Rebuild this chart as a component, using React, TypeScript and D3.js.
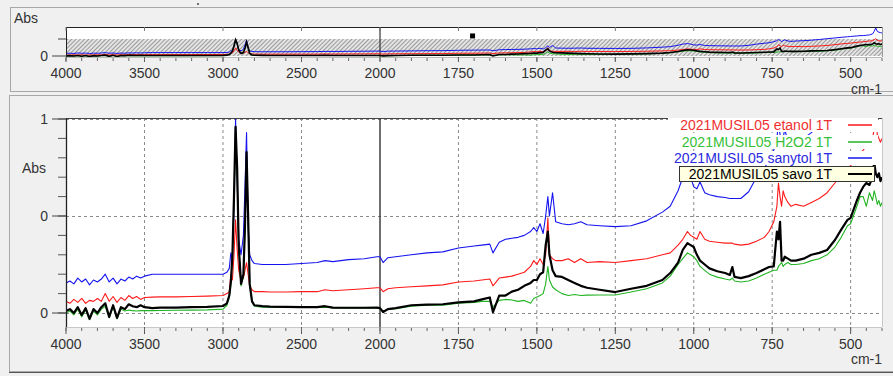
import * as d3 from "d3";

// wavenumber grid (cm-1) shared by all four spectra
const wavenumbers = [
  4000, 3975, 3950, 3925, 3900, 3875, 3850, 3825, 3800, 3775, 3750, 3725, 3700, 3675, 3650, 3625, 3600,
  3575, 3550, 3525, 3500, 3450, 3400, 3300, 3200, 3100, 3000, 2975, 2960, 2950, 2940, 2930, 2920, 2910,
  2900, 2885, 2870, 2860, 2850, 2840, 2830, 2815, 2800, 2750, 2700, 2600, 2500, 2400, 2350, 2300, 2200,
  2100, 2020, 2000, 1990, 1975, 1950, 1900, 1850, 1800, 1750, 1700, 1675, 1650, 1640, 1620, 1600, 1580,
  1560, 1540, 1520, 1510, 1500, 1490, 1480, 1472, 1465, 1460, 1450, 1440, 1420, 1400, 1380, 1360, 1340,
  1300, 1250, 1200, 1150, 1100, 1075, 1050, 1035, 1020, 1010, 1000, 990, 980, 965, 950, 925, 900, 885,
  877, 870, 850, 825, 800, 775, 760, 745, 735, 730, 725, 720, 715, 710, 700, 690, 675, 650, 625, 600,
  575, 550, 530, 510, 500, 480, 470, 460, 450, 440, 430, 425, 420, 415, 410, 405, 400,
];

const etanol = [
  0.06, 0.05, 0.07, 0.055, 0.075, 0.05, 0.065, 0.06, 0.075, 0.06, 0.1, 0.06, 0.085, 0.055, 0.08, 0.065, 0.09,
  0.075, 0.085, 0.07, 0.08, 0.082, 0.083, 0.083, 0.085, 0.087, 0.09, 0.1, 0.11, 0.2, 0.17, 0.3, 0.48, 0.33,
  0.22, 0.17, 0.18, 0.22, 0.26, 0.2, 0.14, 0.12, 0.11, 0.11, 0.108, 0.108, 0.11, 0.11, 0.12, 0.115, 0.12,
  0.125, 0.13, 0.13, 0.11, 0.125, 0.13, 0.135, 0.14, 0.145, 0.16, 0.165, 0.17, 0.175, 0.14, 0.18, 0.185, 0.19,
  0.2, 0.21, 0.24, 0.27, 0.25, 0.28, 0.25, 0.3, 0.49, 0.3, 0.28, 0.27, 0.27, 0.28, 0.26, 0.28, 0.26,
  0.265, 0.26, 0.27, 0.28, 0.3, 0.31, 0.35, 0.38, 0.42, 0.4, 0.39, 0.38, 0.42, 0.38, 0.37, 0.365, 0.36, 0.36,
  0.36, 0.355, 0.35, 0.355, 0.37, 0.39, 0.42, 0.47, 0.55, 0.67, 0.6, 0.55, 0.63, 0.6, 0.57, 0.55, 0.56, 0.55, 0.57, 0.59,
  0.62, 0.67, 0.71, 0.74, 0.76, 0.8, 0.82, 0.84, 0.86, 0.88, 0.9, 0.95, 1.02, 0.92, 0.9, 0.88, 0.9,
];

const h2o2 = [
  0.0, 0.01, -0.01, 0.02, -0.02, 0.015, -0.035, 0.01, -0.01, 0.02, 0.035, -0.025, 0.03, -0.03, 0.02, 0.01, 0.015,
  0.012, 0.01, 0.012, 0.012, 0.012, 0.013, 0.014, 0.015, 0.016, 0.02, 0.04, 0.08, 0.15, 0.28, 0.58, 0.94, 0.72,
  0.33, 0.14, 0.19, 0.43, 0.8, 0.48, 0.14, 0.055, 0.035, 0.03, 0.03, 0.03, 0.028, 0.028, 0.03, 0.026, 0.025,
  0.025, 0.025, 0.022, 0.005, 0.018, 0.022, 0.035, 0.04, 0.04, 0.05, 0.055, 0.06, 0.06, 0.03, 0.065, 0.07, 0.067,
  0.06, 0.065, 0.05, 0.075, 0.082, 0.09, 0.1, 0.15, 0.24, 0.17, 0.134, 0.12, 0.1, 0.09, 0.095, 0.09, 0.092,
  0.093, 0.093, 0.108, 0.125, 0.155, 0.19, 0.25, 0.28, 0.31, 0.3, 0.29, 0.27, 0.24, 0.22, 0.2, 0.185, 0.175, 0.17,
  0.18, 0.165, 0.16, 0.165, 0.18, 0.2, 0.21, 0.22, 0.22, 0.24, 0.25, 0.26, 0.24, 0.25, 0.26, 0.25, 0.25, 0.255, 0.27, 0.28,
  0.3, 0.34, 0.39, 0.45, 0.46, 0.55, 0.6, 0.6, 0.55, 0.62, 0.58, 0.63, 0.6, 0.56, 0.58, 0.55, 0.57,
];

const sanytol = [
  0.155, 0.165, 0.15, 0.18, 0.16, 0.175, 0.145, 0.17, 0.16, 0.175, 0.2, 0.16, 0.18, 0.15, 0.175, 0.165, 0.185,
  0.175, 0.19, 0.18, 0.19, 0.2, 0.2, 0.2, 0.2, 0.2, 0.2, 0.21, 0.23, 0.31, 0.28, 0.55, 1.0, 0.7,
  0.38, 0.3, 0.4, 0.65, 0.93, 0.45, 0.3, 0.27, 0.255, 0.25, 0.25, 0.25, 0.255, 0.26, 0.27, 0.265, 0.275,
  0.28, 0.29, 0.29, 0.26, 0.285, 0.29, 0.3, 0.31, 0.315, 0.335, 0.345, 0.35, 0.355, 0.31, 0.365, 0.38, 0.385,
  0.39, 0.4, 0.42, 0.44, 0.42, 0.46, 0.41, 0.5, 0.6, 0.5, 0.62, 0.47, 0.46, 0.455, 0.46, 0.47, 0.455,
  0.45, 0.445, 0.45, 0.475, 0.52, 0.55, 0.63, 0.7, 0.73, 0.7, 0.65, 0.64, 0.675, 0.62, 0.61, 0.6, 0.595, 0.59,
  0.59, 0.59, 0.59, 0.625, 0.7, 0.75, 0.78, 0.84, 0.9, 0.98, 0.92, 0.85, 0.9, 0.95, 0.88, 0.86, 0.88, 0.9, 0.93, 0.97,
  1.02, 1.06, 1.1, 1.13, 1.15, 1.18, 1.2, 1.2, 1.22, 1.24, 1.3, 1.45, 1.65, 1.45, 1.4, 1.38, 1.35,
];

const savo = [
  0.01, 0.02, 0.0, 0.03, -0.01, 0.025, -0.03, 0.02, 0.0, 0.03, 0.05, -0.02, 0.04, -0.025, 0.03, 0.02, 0.045,
  0.035, 0.03, 0.04, 0.03, 0.025, 0.028, 0.028, 0.03, 0.032, 0.036, 0.05, 0.09, 0.16, 0.3, 0.6, 0.96, 0.75,
  0.35, 0.15, 0.2, 0.45, 0.83, 0.5, 0.15, 0.06, 0.04, 0.035, 0.033, 0.032, 0.03, 0.03, 0.035, 0.028, 0.027,
  0.027, 0.028, 0.025, 0.005, 0.02, 0.025, 0.04, 0.043, 0.045, 0.055, 0.06, 0.07, 0.08, 0.005, 0.09, 0.09, 0.11,
  0.12, 0.14, 0.155, 0.17, 0.17, 0.2, 0.21, 0.35, 0.42, 0.3, 0.22, 0.19, 0.186, 0.17, 0.155, 0.14, 0.13,
  0.12, 0.108, 0.125, 0.14, 0.17, 0.206, 0.26, 0.325, 0.36, 0.35, 0.34, 0.3, 0.27, 0.25, 0.23, 0.215, 0.206, 0.196,
  0.237, 0.186, 0.18, 0.19, 0.206, 0.225, 0.237, 0.24, 0.42, 0.38, 0.47, 0.27, 0.27, 0.29, 0.28, 0.27, 0.27, 0.28, 0.3, 0.31,
  0.325, 0.376, 0.43, 0.48, 0.49, 0.58, 0.62, 0.65, 0.67, 0.66, 0.7, 0.78, 0.72, 0.7, 0.72, 0.68, 0.7,
];

const seriesNames = ["2021MUSIL05 etanol 1T", "2021MUSIL05 H2O2 1T", "2021MUSIL05 sanytol 1T", "2021MUSIL05 savo 1T"];
const seriesValues = [etanol, h2o2, sanytol, savo];
const seriesColors = ["#ff1a1a", "#22b422", "#1414f0", "#000000"];
const legendColors = ["#f03030", "#36c036", "#2a2ae0", "#000000"];
const drawOrder = [2, 0, 1, 3];

const majorTicks = [4000, 3500, 3000, 2500, 2000, 1750, 1500, 1250, 1000, 750, 500];
const minorTicks = [...d3.range(4000, 2000, -100), ...d3.range(2000, 399, -50)];
const mainYTicks = [0, 0.5, 1];
const mainYLabels = ["0", "0", "1"];
const peakMarker = [1705, 1.18];

const W = 893;
const H = 376;
const FONT = "'Liberation Sans', Arial, sans-serif";
const TXT = "#333";
const PLOT = { left: 66, brk: 380, right: 882 };
const MAIN = { top: 118, bottom: 327 };
const OVER = { top: 27, bottom: 57 };

export default function App() {
  const x = d3.scaleLinear().domain([4000, 2000, 400]).range([PLOT.left, PLOT.brk, PLOT.right]);
  const yMain = d3.scaleLinear().domain([0, 1]).range([313, 119]);
  const yOver = d3.scaleLinear().domain([0, 1]).range([56, 39]);

  const makeLine = (y: d3.ScaleLinear<number, number>) =>
    d3
      .line<number>()
      .x((_, i) => x(wavenumbers[i]))
      .y((d) => y(d));

  const mainLine = makeLine(yMain);
  const overLine = makeLine(yOver);

  const legendY = [125, 142, 158, 174];

  return (
    <div style={{ position: "absolute", left: 0, top: 0, width: W, height: H }}>
      <svg width={W} height={H} style={{ display: "block", fontFamily: FONT }}>
        <defs>
          <clipPath id="clipMain">
            <rect x={PLOT.left} y={MAIN.top} width={PLOT.right - PLOT.left} height={MAIN.bottom - MAIN.top} />
          </clipPath>
          <clipPath id="clipOver">
            <rect x={PLOT.left} y={OVER.top} width={PLOT.right - PLOT.left} height={OVER.bottom - OVER.top} />
          </clipPath>
          <pattern id="hatch" width={3} height={3} patternUnits="userSpaceOnUse" patternTransform="rotate(45)">
            <rect width={3} height={3} fill="#e4e4e4" />
            <line x1={0} y1={0} x2={0} y2={3} stroke="#6a6a6a" strokeWidth={1.2} />
          </pattern>
        </defs>

        <rect width={W} height={H} fill="#f0f0f0" />
        <circle cx={198} cy={4} r={1} fill="#444" />

        {/* panel frames */}
        <rect x={10.5} y={7.5} width={890} height={84} fill="none" stroke="#a8a8a8" />
        <rect x={9.5} y={95.5} width={890} height={276} fill="none" stroke="#a8a8a8" />
        <line x1={9} x2={W} y1={372.5} y2={372.5} stroke="#555" />

        {/* ===== overview panel ===== */}
        <text x={14} y={23} fontSize={14} fill={TXT}>Abs</text>
        <rect x={PLOT.left} y={OVER.top} width={PLOT.right - PLOT.left} height={OVER.bottom - OVER.top} fill="#fff" />
        <rect x={PLOT.left} y={yOver(1)} width={PLOT.right - PLOT.left} height={yOver(0) - yOver(1)} fill="url(#hatch)" />
        <line x1={x(2000)} x2={x(2000)} y1={OVER.top} y2={OVER.bottom} stroke="#333" strokeWidth={1.2} />
        <g clipPath="url(#clipOver)">
          {drawOrder.map((s) => (
            <path
              key={s}
              d={overLine(seriesValues[s]) || ""}
              fill="none"
              stroke={seriesColors[s]}
              strokeWidth={s === 3 ? 1.6 : 1}
            />
          ))}
        </g>
        <rect x={x(peakMarker[0]) - 2.5} y={yOver(peakMarker[1]) - 2.5} width={5} height={5} fill="#000" />
        <line x1={PLOT.left} x2={PLOT.right} y1={OVER.top + 0.5} y2={OVER.top + 0.5} stroke="#222" />
        <line x1={PLOT.left + 0.5} x2={PLOT.left + 0.5} y1={OVER.top} y2={OVER.bottom} stroke="#222" />
        <line x1={PLOT.right + 0.5} x2={PLOT.right + 0.5} y1={OVER.top} y2={OVER.bottom} stroke="#999" />
        <line x1={PLOT.left} x2={PLOT.right} y1={OVER.bottom + 0.5} y2={OVER.bottom + 0.5} stroke="#bbb" />
        {majorTicks.map((t) => (
          <g key={t}>
            <line x1={x(t)} x2={x(t)} y1={OVER.top} y2={OVER.top + 4} stroke="#777" />
            <line x1={x(t)} x2={x(t)} y1={OVER.bottom} y2={OVER.bottom + 5} stroke="#555" />
            <text x={x(t)} y={78} fontSize={14} fill={TXT} textAnchor="middle">{t}</text>
          </g>
        ))}
        {minorTicks.map((t) => (
          <line key={t} x1={x(t)} x2={x(t)} y1={OVER.bottom + 1} y2={OVER.bottom + 4} stroke="#666" />
        ))}
        <line x1={52} x2={PLOT.left} y1={yOver(0)} y2={yOver(0)} stroke="#444" />
        <line x1={58} x2={PLOT.left} y1={yOver(1)} y2={yOver(1)} stroke="#444" />
        <text x={48} y={yOver(0) + 5} fontSize={14} fill={TXT} textAnchor="end">0</text>
        <text x={PLOT.right} y={94} fontSize={14} fill={TXT} textAnchor="end">cm-1</text>

        {/* ===== main panel ===== */}
        <text x={22} y={173} fontSize={14} fill={TXT}>Abs</text>
        <rect x={PLOT.left} y={MAIN.top} width={PLOT.right - PLOT.left} height={MAIN.bottom - MAIN.top} fill="#fff" />
        {majorTicks
          .filter((t) => t !== 2000 && t !== 4000)
          .map((t) => (
            <line key={t} x1={x(t)} x2={x(t)} y1={MAIN.top} y2={MAIN.bottom} stroke="#8a8a8a" strokeDasharray="3,3" />
          ))}
        {mainYTicks.map((t) => (
          <line key={t} x1={PLOT.left} x2={PLOT.right} y1={yMain(t) + 0.5} y2={yMain(t) + 0.5} stroke="#8a8a8a" strokeDasharray="3,3" />
        ))}
        <line x1={x(2000)} x2={x(2000)} y1={MAIN.top} y2={MAIN.bottom} stroke="#333" strokeWidth={1.4} />

        <g clipPath="url(#clipMain)">
          {drawOrder.map((s) => (
            <path
              key={s}
              d={mainLine(seriesValues[s]) || ""}
              fill="none"
              stroke={seriesColors[s]}
              strokeWidth={s === 3 ? 2.2 : 1.1}
              strokeLinejoin="round"
            />
          ))}
        </g>

        <line x1={PLOT.left} x2={PLOT.right} y1={MAIN.top + 0.5} y2={MAIN.top + 0.5} stroke="#444" />
        <line x1={PLOT.left + 0.5} x2={PLOT.left + 0.5} y1={MAIN.top} y2={MAIN.bottom} stroke="#222" strokeWidth={1.3} />
        <line x1={PLOT.right + 0.5} x2={PLOT.right + 0.5} y1={MAIN.top} y2={MAIN.bottom} stroke="#c8c8c8" />
        <line x1={PLOT.left} x2={PLOT.right} y1={MAIN.bottom + 0.5} y2={MAIN.bottom + 0.5} stroke="#c8c8c8" />

        {majorTicks.map((t) => (
          <g key={t}>
            <line x1={x(t)} x2={x(t)} y1={MAIN.bottom} y2={MAIN.bottom + 7} stroke="#555" />
            <text x={x(t)} y={349} fontSize={14} fill={TXT} textAnchor="middle">{t}</text>
          </g>
        ))}
        {minorTicks.map((t) => (
          <line key={t} x1={x(t)} x2={x(t)} y1={MAIN.bottom + 1} y2={MAIN.bottom + 4} stroke="#666" />
        ))}
        <text x={PLOT.right} y={364} fontSize={14} fill={TXT} textAnchor="end">cm-1</text>

        {d3.range(0, 1.001, 0.1).map((t) => (
          <line key={t} x1={58} x2={PLOT.left} y1={yMain(t)} y2={yMain(t)} stroke="#555" />
        ))}
        {mainYTicks.map((t, i) => (
          <g key={t}>
            <line x1={52} x2={PLOT.left} y1={yMain(t)} y2={yMain(t)} stroke="#444" />
            <text x={48} y={yMain(t) + 5} fontSize={14} fill={TXT} textAnchor="end">{mainYLabels[i]}</text>
          </g>
        ))}

        {/* legend */}
        {seriesNames.map((name, i) => {
          const ly = legendY[i];
          const selected = i === 3;
          return (
            <g key={name}>
              {selected ? (
                <rect x={679.5} y={ly - 7.5} width={195} height={15} fill="#ffffe1" stroke="#333" />
              ) : (
                <rect x={668} y={ly - 7} width={210} height={14} fill="#fff" />
              )}
              <text x={832} y={ly + 5} fontSize={14} fill={legendColors[i]} textAnchor="end">{name}</text>
              <line x1={848} x2={872} y1={ly} y2={ly} stroke={seriesColors[i]} strokeWidth={selected ? 2 : 1.5} />
            </g>
          );
        })}
      </svg>
    </div>
  );
}
